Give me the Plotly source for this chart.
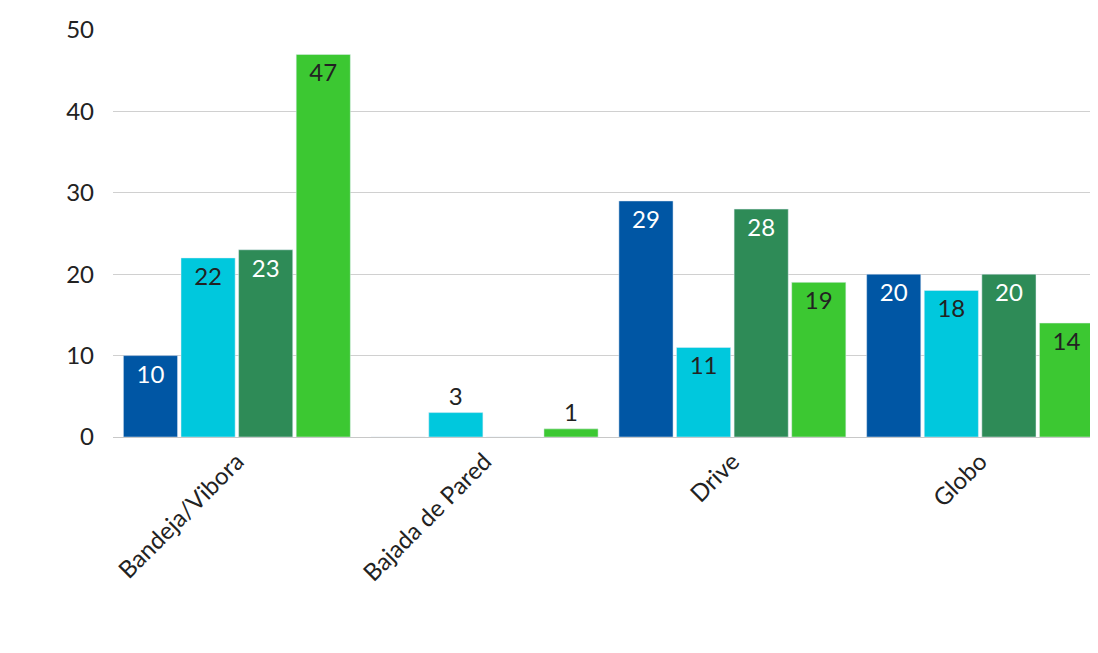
import plotly.graph_objects as go

categories = ["Bandeja/Vibora", "Bajada de Pared", "Drive", "Globo"]
series_a = [10, 0, 29, 20]
series_b = [22, 3, 11, 18]
series_c = [23, 0, 28, 20]
series_d = [47, 1, 19, 14]

colors = ["#0056A4", "#00C8DD", "#2E8B57", "#3CC832"]
text_colors = ["white", "#222222", "white", "#222222"]

fig = go.Figure()
for vals, col, tc in zip([series_a, series_b, series_c, series_d], colors, text_colors):
    fig.add_trace(go.Bar(
        x=categories, y=vals, marker_color=col,
        text=[str(v) if v else "" for v in vals],
        textposition=["inside" if v >= 8 else "outside" for v in vals],
        insidetextanchor="end",
        insidetextfont=dict(color=tc, size=24),
        outsidetextfont=dict(color="#222222", size=24),
        cliponaxis=False,
        showlegend=False,
    ))

fig.update_layout(
    barmode="group", bargap=0.07, bargroupgap=0.06,
    width=1098, height=653,
    margin=dict(l=105, r=2, t=22, b=224),
    plot_bgcolor="white", paper_bgcolor="white",
    font=dict(family="Lato, sans-serif", size=24, color="#222222"),
    uniformtext=dict(mode=False),
)
fig.update_yaxes(range=[0, 50], dtick=10, showgrid=True, gridcolor="#D0D0D0",
                 zeroline=False, ticks="", ticklabelstandoff=18)
fig.update_xaxes(tickangle=-45, showline=True, linecolor="#C8C8C8", ticks="")

fig.write_html("out.html")
